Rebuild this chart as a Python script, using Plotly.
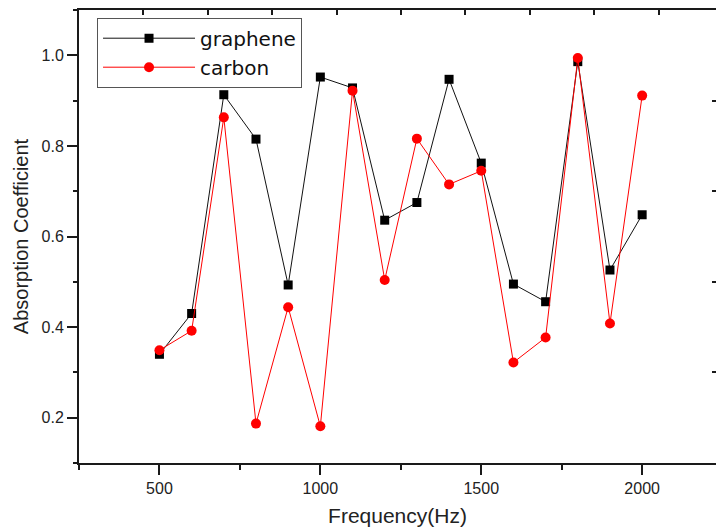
import plotly.graph_objects as go

frequency = [500, 600, 700, 800, 900, 1000, 1100, 1200, 1300, 1400, 1500, 1600, 1700, 1800, 1900, 2000]
graphene = [0.340, 0.430, 0.913, 0.815, 0.493, 0.952, 0.928, 0.636, 0.675, 0.947, 0.762, 0.495, 0.456, 0.986, 0.526, 0.648]
carbon = [0.349, 0.392, 0.863, 0.187, 0.444, 0.181, 0.922, 0.504, 0.816, 0.715, 0.745, 0.322, 0.377, 0.994, 0.408, 0.911]

FONT = "Liberation Sans, Arial, sans-serif"
AX = "#1a1a1a"

fig = go.Figure()
fig.add_trace(go.Scatter(
    x=frequency, y=graphene, name="graphene", mode="lines+markers",
    line=dict(color="#111111", width=1),
    marker=dict(symbol="square", size=9, color="#000000"),
))
fig.add_trace(go.Scatter(
    x=frequency, y=carbon, name="carbon", mode="lines+markers",
    line=dict(color="#ff0000", width=1),
    marker=dict(symbol="circle", size=10, color="#ff0000"),
))
# helper trace so the decorative top/right axes are drawn
fig.add_trace(go.Scatter(x=[None], y=[None], xaxis="x2", yaxis="y2",
                         showlegend=False, hoverinfo="skip"))

fig.update_layout(
    width=716, height=532,
    margin=dict(l=79, r=0, t=10, b=69),
    paper_bgcolor="white", plot_bgcolor="white",
    font=dict(family=FONT, color="#222222"),
    showlegend=True,
    legend=dict(
        x=0.0283, y=0.983, xanchor="left", yanchor="top",
        bgcolor="white", bordercolor="#555555", borderwidth=1,
        font=dict(family="DejaVu Sans, sans-serif", size=20, color="#111111"),
        tracegroupgap=0, itemwidth=92,
    ),
    xaxis=dict(
        range=[250, 2229.5], tick0=0, dtick=500,
        ticks="outside", ticklen=10, tickwidth=2, tickcolor=AX,
        minor=dict(dtick=250, ticks="outside", ticklen=5, tickwidth=2, tickcolor=AX),
        showline=True, linewidth=2, linecolor=AX, mirror=False,
        showgrid=False, zeroline=False,
        tickfont=dict(size=16, color="#222222"),
        title=dict(text="Frequency(Hz)", font=dict(size=21, color="#222222"), standoff=12),
    ),
    yaxis=dict(
        range=[0.1, 1.1], tick0=0, dtick=0.2, tickformat=".1f",
        ticks="outside", ticklen=10, tickwidth=2, tickcolor=AX,
        minor=dict(dtick=0.1, ticks="outside", ticklen=4, tickwidth=2, tickcolor=AX),
        showline=True, linewidth=2, linecolor=AX, mirror=False,
        showgrid=False, zeroline=False,
        tickfont=dict(size=16, color="#222222"),
        title=dict(text="Absorption Coefficient", font=dict(size=20, color="#222222"), standoff=8),
    ),
    xaxis2=dict(
        overlaying="x", side="top", anchor="y2", range=[0, 9.891],
        tickvals=[1, 2, 3, 4, 5, 6, 7, 8, 9], ticks="inside", ticklen=5, tickwidth=2,
        tickcolor=AX, showticklabels=False, showline=True, linewidth=2, linecolor=AX,
        showgrid=False, zeroline=False,
    ),
    yaxis2=dict(
        overlaying="y", side="right", anchor="x2", range=[0, 5],
        tickvals=[1, 2, 3, 4], ticks="inside", ticklen=4, tickwidth=2,
        tickcolor=AX, showticklabels=False, showline=False,
        showgrid=False, zeroline=False,
    ),
)

fig.write_html("out.html")
